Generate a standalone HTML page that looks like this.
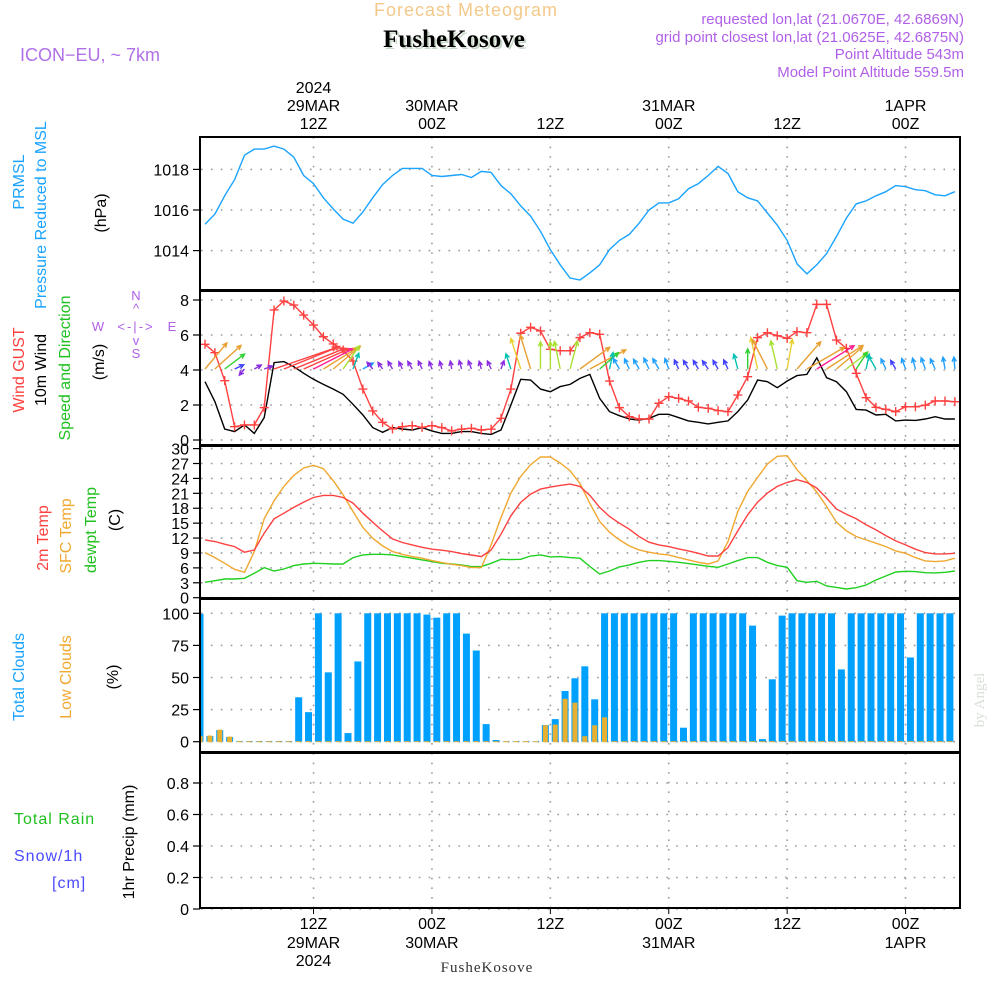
<!DOCTYPE html>
<html><head><meta charset="utf-8"><style>
html,body{margin:0;padding:0;background:#fff;}
svg{display:block;font-family:"Liberation Sans",sans-serif;}
</style></head><body>
<svg id="chart" width="1000" height="1000" viewBox="0 0 1000 1000" xmlns="http://www.w3.org/2000/svg">
<defs>
<clipPath id="cpP"><rect x="201" y="138" width="758" height="152"/></clipPath>
<clipPath id="cpW"><rect x="201" y="292" width="758" height="152"/></clipPath>
<clipPath id="cpT"><rect x="201" y="447" width="758" height="151"/></clipPath>
<clipPath id="cpC"><rect x="201" y="600" width="758" height="152"/></clipPath>
</defs>
<g>
<text x="466" y="16" font-size="18" fill="#f3c98a" text-anchor="middle" letter-spacing="1">Forecast Meteogram</text>
<text x="456" y="49" font-size="25" font-weight="bold" font-family="Liberation Serif,serif" fill="#c8d8c8" text-anchor="middle">FusheKosove</text>
<text x="454" y="47" font-size="25" font-weight="bold" font-family="Liberation Serif,serif" fill="#000" text-anchor="middle">FusheKosove</text>
<text x="20" y="61" font-size="18" fill="#b070e8">ICON−EU, ~ 7km</text>
<g font-size="15" fill="#b060e8" text-anchor="end">
<text x="964" y="24">requested lon,lat (21.0670E, 42.6869N)</text>
<text x="964" y="42">grid point closest lon,lat (21.0625E, 42.6875N)</text>
<text x="964" y="59">Point Altitude 543m</text>
<text x="964" y="77">Model Point Altitude 559.5m</text>
</g>
</g>
<g id="left-labels" font-size="16">
<text transform="translate(24,182) rotate(-90)" text-anchor="middle" fill="#1aa3ff">PRMSL</text>
<text transform="translate(46,215) rotate(-90)" text-anchor="middle" fill="#1aa3ff">Pressure Reduced to MSL</text>
<text transform="translate(106,213) rotate(-90)" text-anchor="middle" fill="#000">(hPa)</text>
<text transform="translate(24,370) rotate(-90)" text-anchor="middle" fill="#ff4040">Wind GUST</text>
<text transform="translate(46,370) rotate(-90)" text-anchor="middle" fill="#000">10m Wind</text>
<text transform="translate(70,368) rotate(-90)" text-anchor="middle" fill="#20c020">Speed and Direction</text>
<text transform="translate(104,362) rotate(-90)" text-anchor="middle" fill="#000">(m/s)</text>
<g fill="#b060e8" font-size="13" text-anchor="middle">
<text x="136" y="300">N</text><text x="136" y="313">^</text>
<text x="136" y="331" letter-spacing="2">&lt;-|-&gt;</text>
<text x="98" y="331">W</text><text x="172" y="331">E</text>
<text x="136" y="345">v</text><text x="136" y="358">S</text>
</g>
<text transform="translate(48,538) rotate(-90)" text-anchor="middle" fill="#ff4040">2m Temp</text>
<text transform="translate(71,536) rotate(-90)" text-anchor="middle" fill="#f0a830">SFC Temp</text>
<text transform="translate(96,530) rotate(-90)" text-anchor="middle" fill="#20c020">dewpt Temp</text>
<text transform="translate(120,520) rotate(-90)" text-anchor="middle" fill="#000">(C)</text>
<text transform="translate(24,677) rotate(-90)" text-anchor="middle" fill="#1aa3ff">Total Clouds</text>
<text transform="translate(71,677) rotate(-90)" text-anchor="middle" fill="#f0a830">Low Clouds</text>
<text transform="translate(118,677) rotate(-90)" text-anchor="middle" fill="#000">(%)</text>
<text x="14" y="824" fill="#20c020" letter-spacing="1">Total   Rain</text>
<text x="14" y="861" fill="#4a4aff" letter-spacing="1">Snow/1h</text>
<text x="52" y="888" fill="#4a4aff" letter-spacing="1">[cm]</text>
<text transform="translate(134,842) rotate(-90)" text-anchor="middle" fill="#000">1hr Precip (mm)</text>
</g>
<text transform="translate(984,700) rotate(-90)" text-anchor="middle" font-size="15" font-family="Liberation Serif,serif" fill="#d8e0d8">by Angel</text>
<text x="487" y="972" font-size="15" font-family="Liberation Serif,serif" fill="#333" text-anchor="middle" letter-spacing="1">FusheKosove</text>
</svg>
<script>
// ---- data ----
const pressure = [1015.3,1015.8,1016.7,1017.5,1018.7,1019.0,1019.0,1019.15,1019.0,1018.6,1017.7,1017.3,1016.6,1016.05,1015.55,1015.35,1015.9,1016.6,1017.25,1017.7,1018.05,1018.05,1018.05,1017.7,1017.65,1017.7,1017.75,1017.6,1017.9,1017.85,1017.2,1016.8,1016.2,1015.7,1014.95,1014.05,1013.3,1012.65,1012.55,1012.9,1013.3,1014.05,1014.5,1014.8,1015.35,1016.0,1016.35,1016.35,1016.55,1017.05,1017.3,1017.7,1018.15,1017.8,1016.9,1016.6,1016.45,1015.85,1015.25,1014.5,1013.35,1012.85,1013.3,1013.85,1014.7,1015.6,1016.3,1016.45,1016.7,1016.9,1017.2,1017.15,1017.0,1016.95,1016.75,1016.7,1016.9];
const windGust = [5.47,4.99,3.39,0.76,0.86,0.86,1.85,7.43,7.94,7.71,7.14,6.57,5.9,5.49,5.14,4.51,2.91,1.66,1.01,0.63,0.76,0.82,0.72,0.82,0.71,0.52,0.62,0.67,0.57,0.62,1.24,2.91,6.1,6.44,6.23,5.18,5.1,5.1,5.85,6.13,6.04,3.37,1.85,1.33,1.2,1.2,2.1,2.48,2.38,2.23,1.87,1.81,1.68,1.62,2.57,3.62,5.85,6.13,5.96,5.81,6.19,6.13,7.75,7.75,5.71,5.24,3.81,2.42,1.87,1.75,1.62,1.9,1.9,1.99,2.23,2.23,2.19];
const windSpeed = [3.33,2.19,0.63,0.48,0.86,0.38,1.28,4.42,4.48,4.19,3.81,3.47,3.18,2.91,2.61,2.04,1.43,0.71,0.44,0.71,0.63,0.57,0.71,0.52,0.38,0.38,0.48,0.48,0.38,0.32,0.57,2.0,3.47,3.43,2.91,2.76,3.05,3.18,3.52,3.75,2.38,1.62,1.39,1.2,1.14,1.24,1.47,1.47,1.28,1.09,1.01,0.92,1.01,1.09,1.62,2.29,3.43,3.33,2.99,3.37,3.68,3.75,4.7,3.56,3.33,2.76,1.75,1.71,1.43,1.47,1.09,1.14,1.12,1.2,1.33,1.2,1.2];
const arrowDir = [40,48,53,65,220,60,70,71,68,68,66,63,58,50,35,20,60,-40,-35,-30,-25,-30,-25,-20,-15,-10,-15,-20,-15,-25,20,-18,-18,-17,0,0,-12,15,54,62,49,12,-30,-25,-30,-25,-30,-20,-25,-30,-30,-35,-30,-25,-15,0,-12,-27,-13,10,41,60,58,57,50,52,33,12,-30,-25,-30,-20,-15,-20,-25,-10,-5];
const arrowSpd = [4.25,4.4,3.1,1.25,1.0,1.0,1.1,8.25,7.5,6.9,6.25,5.6,5.0,4.4,3.5,2.1,1.5,1.1,1.0,1.1,1.0,1.1,1.1,1.0,1.0,1.0,1.1,1.1,1.0,1.1,1.1,2.0,4.0,4.4,3.4,3.4,3.5,3.6,4.6,5.1,3.1,2.1,1.5,1.4,1.4,1.5,1.5,1.4,1.25,1.25,1.25,1.25,1.25,1.25,1.9,2.5,4.0,4.1,3.6,3.75,4.5,5.4,5.5,5.4,4.25,3.4,2.5,1.9,1.9,1.4,1.25,1.4,1.4,1.5,1.4,1.5,1.5];
const temp2m = [11.63,11.3,10.76,10.29,9.15,9.6,12.98,15.87,17.0,18.16,19.23,20.17,20.58,20.58,20.17,19.03,17.0,15.2,13.45,11.84,11.1,10.63,10.15,9.75,9.55,9.28,8.88,8.6,8.27,9.6,12.78,16.48,19.17,20.85,21.86,22.26,22.6,22.86,22.4,20.6,18.16,16.34,15.0,13.79,12.3,11.16,10.63,10.29,9.82,9.41,8.94,8.4,8.4,10.09,13.45,16.68,19.23,21.05,22.39,23.2,23.74,23.2,22.06,20.04,17.82,16.81,15.87,14.66,13.65,12.5,11.43,10.63,9.75,9.08,8.81,8.81,8.94];
const tempSfc = [9.08,8.07,6.93,5.72,5.11,9.28,15.87,19.5,22.39,24.61,26.09,26.63,25.96,23.54,20.71,17.35,14.12,11.97,10.42,9.28,8.74,8.27,7.94,7.46,7.06,6.72,6.46,6.05,6.05,10.63,16.14,21.05,24.41,26.77,28.31,28.31,27.1,25.55,23.0,19.0,15.33,13.18,11.63,10.42,9.62,9.15,8.81,8.61,8.07,7.6,7.13,6.79,7.4,11.3,17.35,21.39,24.21,26.9,28.45,28.58,25.76,23.54,21.25,18.36,15.2,13.45,12.31,11.63,10.96,10.29,9.41,8.94,8.07,7.4,7.26,7.4,7.94];
const tempDew = [3.09,3.43,3.77,3.77,3.9,4.91,6.05,5.38,5.78,6.46,6.79,6.93,6.86,6.79,6.79,8.07,8.61,8.74,8.74,8.61,8.27,7.94,7.6,7.26,6.93,6.79,6.59,6.25,6.25,6.93,7.73,7.67,7.73,8.4,8.61,8.2,8.27,8.07,7.94,6.3,4.77,5.38,6.19,6.59,7.13,7.46,7.46,7.33,7.13,6.86,6.59,6.32,6.12,6.79,7.46,8.07,8.07,7.13,6.46,6.12,3.43,3.09,3.3,2.35,2.08,1.75,2.02,2.56,3.56,4.37,5.18,5.31,5.25,5.04,4.98,5.11,5.38];
const totalClouds = [99.5,4.4,9,3.6,0.5,0.5,0.5,0.5,0.5,0.5,34.6,23,100,54,100,6.7,62.5,100,100,100,100,100,100,99,96.6,100,100,84.2,71,13.7,1.3,0.3,0.3,0.3,0.3,12.9,17.6,39.5,49.4,58.7,33,100,100,100,100,100,100,100,100,10.9,100,100,100,100,100,100,90.4,2,48.6,98.2,100,100,100,100,100,56.3,100,100,100,100,100,100,65.6,100,100,100,100];
const lowClouds = [4,4.4,9,3.6,0,0,0,0,0,0,0,0,0,0,0,0,0,0,0,0,0,0,0,0,0,0,0,0,0,0,0,0,0,0,0,12.4,12.9,33,30,3.9,12.4,18.6,0,0,0,0,0,0,0,0,0,0,0,0,0,0,0,0,0,0,0,0,0,0,0,0,0,0,0,0,0,0,0,0,0,0,0];
const precip = [0,0,0,0,0,0,0,0,0,0,0,0,0,0,0,0,0,0,0,0,0,0,0,0,0,0,0,0,0,0,0,0,0,0,0,0,0,0,0,0,0,0,0,0,0,0,0,0,0,0,0,0,0,0,0,0,0,0,0,0,0,0,0,0,0,0,0,0,0,0,0,0,0,0,0,0,0];
const pTicks = [1014,1016,1018];
const wTicks = [0,2,4,6,8];
const tTicks = [0,3,6,9,12,15,18,21,24,27,30];
const cTicks = [0,25,50,75,100];
const rTicks = [0,0.2,0.4,0.6,0.8];
const timeTickHours = [11,23,35,47,59,71];
const timeHourLabels = ["12Z","00Z","12Z","00Z","12Z","00Z"];
const timeDayLabels = ["29MAR","30MAR","","31MAR","","1APR"];

// ---- axes ----
const xL = i => 205 + 9.867 * i;
const xB = k => 200 + 9.867 * k;
const yP = v => 210 - (v - 1016) * 20.3;
const yW = v => 440 - v * 17.5;
const yT = v => 597.7 - v * 4.97;
const yC = v => 741.7 - v * 1.284;
const yR = v => 909 - v * 157.5;

const svg = document.getElementById('chart');
const NS = 'http://www.w3.org/2000/svg';
function mk(tag, attrs, parent) {
  const e = document.createElementNS(NS, tag);
  for (const k in attrs) e.setAttribute(k, attrs[k]);
  (parent || svg).appendChild(e);
  return e;
}
function txt(s, x, y, opts, parent) {
  const e = mk('text', Object.assign({x: x, y: y}, opts), parent);
  e.textContent = s;
  return e;
}
const panels = [
  {name:'pressure', top:137, bot:290, ticks:pTicks, y:yP, fmt:v=>String(v)},
  {name:'wind', top:291, bot:445, ticks:wTicks, y:yW, fmt:v=>String(v)},
  {name:'temperature', top:446, bot:598, ticks:tTicks, y:yT, fmt:v=>String(v)},
  {name:'clouds', top:599, bot:752, ticks:cTicks, y:yC, fmt:v=>String(v)},
  {name:'precip', top:753, bot:908, ticks:rTicks, y:yR, fmt:v=>String(v)}
];
panels.forEach(p => {
  const g = mk('g', {});
  
  
  timeTickHours.forEach(h => {
    const l = mk('line', {x1:xL(h), x2:xL(h), y1:p.top, y2:p.bot, stroke:'#9a9a9a', 'stroke-width':1.6, 'stroke-dasharray':'1.6,8'}, g);
    
    
  });
  p.ticks.forEach(v => {
    const yy = p.y(v);
    const gl = mk('line', {x1:201, x2:959, y1:yy, y2:yy, stroke:'#9a9a9a', 'stroke-width':1.6, 'stroke-dasharray':'1.6,8.3'}, g);
    
    
    mk('line', {x1:193, x2:200, y1:yy, y2:yy, stroke:'#000', 'stroke-width':1.2}, g);
    const t = txt(p.fmt(v), 189, yy + 6, {'font-size':16, 'text-anchor':'end', fill:'#000'}, g);
    
    
  });
  const r = mk('rect', {x:200, y:p.top, width:760, height:p.bot - p.top, fill:'none', stroke:'#000', 'stroke-width':2}, g);
  
  
});
// time labels
timeTickHours.forEach((h, j) => {
  const x = xL(h);
  const a = txt(timeHourLabels[j], x, 129, {'font-size':16, 'text-anchor':'middle'});
  
  
  if (timeDayLabels[j]) {
    const d = txt(timeDayLabels[j], x, 111, {'font-size':16, 'text-anchor':'middle'});
    
    
    const d2 = txt(timeDayLabels[j], x, 948, {'font-size':16, 'text-anchor':'middle'});
    
    
  }
  const b = txt(timeHourLabels[j], x, 929, {'font-size':16, 'text-anchor':'middle'});
  
  
  mk('line', {x1:x, x2:x, y1:908, y2:914, stroke:'#000', 'stroke-width':1});
});
const y1 = txt('2024', xL(timeTickHours[0]), 93, {'font-size':16, 'text-anchor':'middle'});


const y2 = txt('2024', xL(timeTickHours[0]), 966, {'font-size':16, 'text-anchor':'middle'});



function poly(arr, yf, color, name, clip, w) {
  const pts = arr.map((v, i) => xL(i).toFixed(1) + ',' + yf(v).toFixed(1)).join(' ');
  const e = mk('polyline', {points:pts, fill:'none', stroke:color, 'stroke-width':w || 1.4, 'clip-path':'url(#' + clip + ')'});
  
  
  return e;
}
poly(pressure, yP, '#1aa3ff', 'pressure-line', 'cpP');
// wind
poly(windSpeed, yW, '#000', 'wind-speed-line', 'cpW');
poly(windGust, yW, '#ff4040', 'wind-gust-line', 'cpW');
windGust.forEach((v, i) => {
  const x = xL(i), yy = yW(v);
  const c = mk('path', {d:`M${x-4.5},${yy}H${x+4.5}M${x},${yy-4.5}V${yy+4.5}`, stroke:'#ff4040', 'stroke-width':1.4, 'clip-path':'url(#cpW)'});
  
  
});
function arrowColor(s) {
  if (s <= 1.15) return '#8a2be2';
  if (s <= 1.3) return '#4040ff';
  if (s <= 1.6) return '#20a0ff';
  if (s <= 2.2) return '#00c0b0';
  if (s <= 3.2) return '#30d030';
  if (s <= 3.6) return '#a8e030';
  if (s <= 4.0) return '#e8d030';
  if (s <= 5.45) return '#e8a030';
  if (s <= 5.6) return '#ff2090';
  return '#ff4040';
}
arrowDir.forEach((d, i) => {
  const len = arrowSpd[i] * 8;
  const rad = d * Math.PI / 180;
  const bx = xL(i), by = yW(4) - 1;
  const tx = bx + len * Math.sin(rad), ty = by - len * Math.cos(rad);
  const h1 = rad + Math.PI - 0.45, h2 = rad + Math.PI + 0.45;
  const hl = 5;
  const dpath = `M${bx},${by}L${tx},${ty}M${tx + hl*Math.sin(h1)},${ty - hl*Math.cos(h1)}L${tx},${ty}L${tx + hl*Math.sin(h2)},${ty - hl*Math.cos(h2)}`;
  const a = mk('path', {d:dpath, fill:'none', stroke:arrowColor(arrowSpd[i]), 'stroke-width':1.4, 'clip-path':'url(#cpW)'});
  
  
});
// temperature
poly(tempDew, yT, '#20d020', 'dewpoint-line', 'cpT');
poly(tempSfc, yT, '#f0a830', 'sfc-temp-line', 'cpT');
poly(temp2m, yT, '#ff4040', '2m-temp-line', 'cpT');
// clouds
totalClouds.forEach((v, k) => {
  const yy = yC(v);
  const r = mk('rect', {x:xB(k) - 3.5, y:yy, width:7, height:yC(0) - yy, fill:'#00a0ff', 'clip-path':'url(#cpC)'});
  
  
});
lowClouds.forEach((v, k) => {
  const yy = yC(v);
  const r = mk('rect', {x:xB(k) - 2.5, y:yy - 0.5, width:5, height:yC(0) - yy + 1, fill:'#e8b030', 'clip-path':'url(#cpC)'});
  
  
});
// precip
const pz = mk('polyline', {points:precip.map((v, i) => xL(i).toFixed(1) + ',' + (yR(v) - 1).toFixed(1)).join(' '), fill:'none', stroke:'#000', 'stroke-width':1.5, 'stroke-dasharray':'5,3'});


</script>
</body></html>
